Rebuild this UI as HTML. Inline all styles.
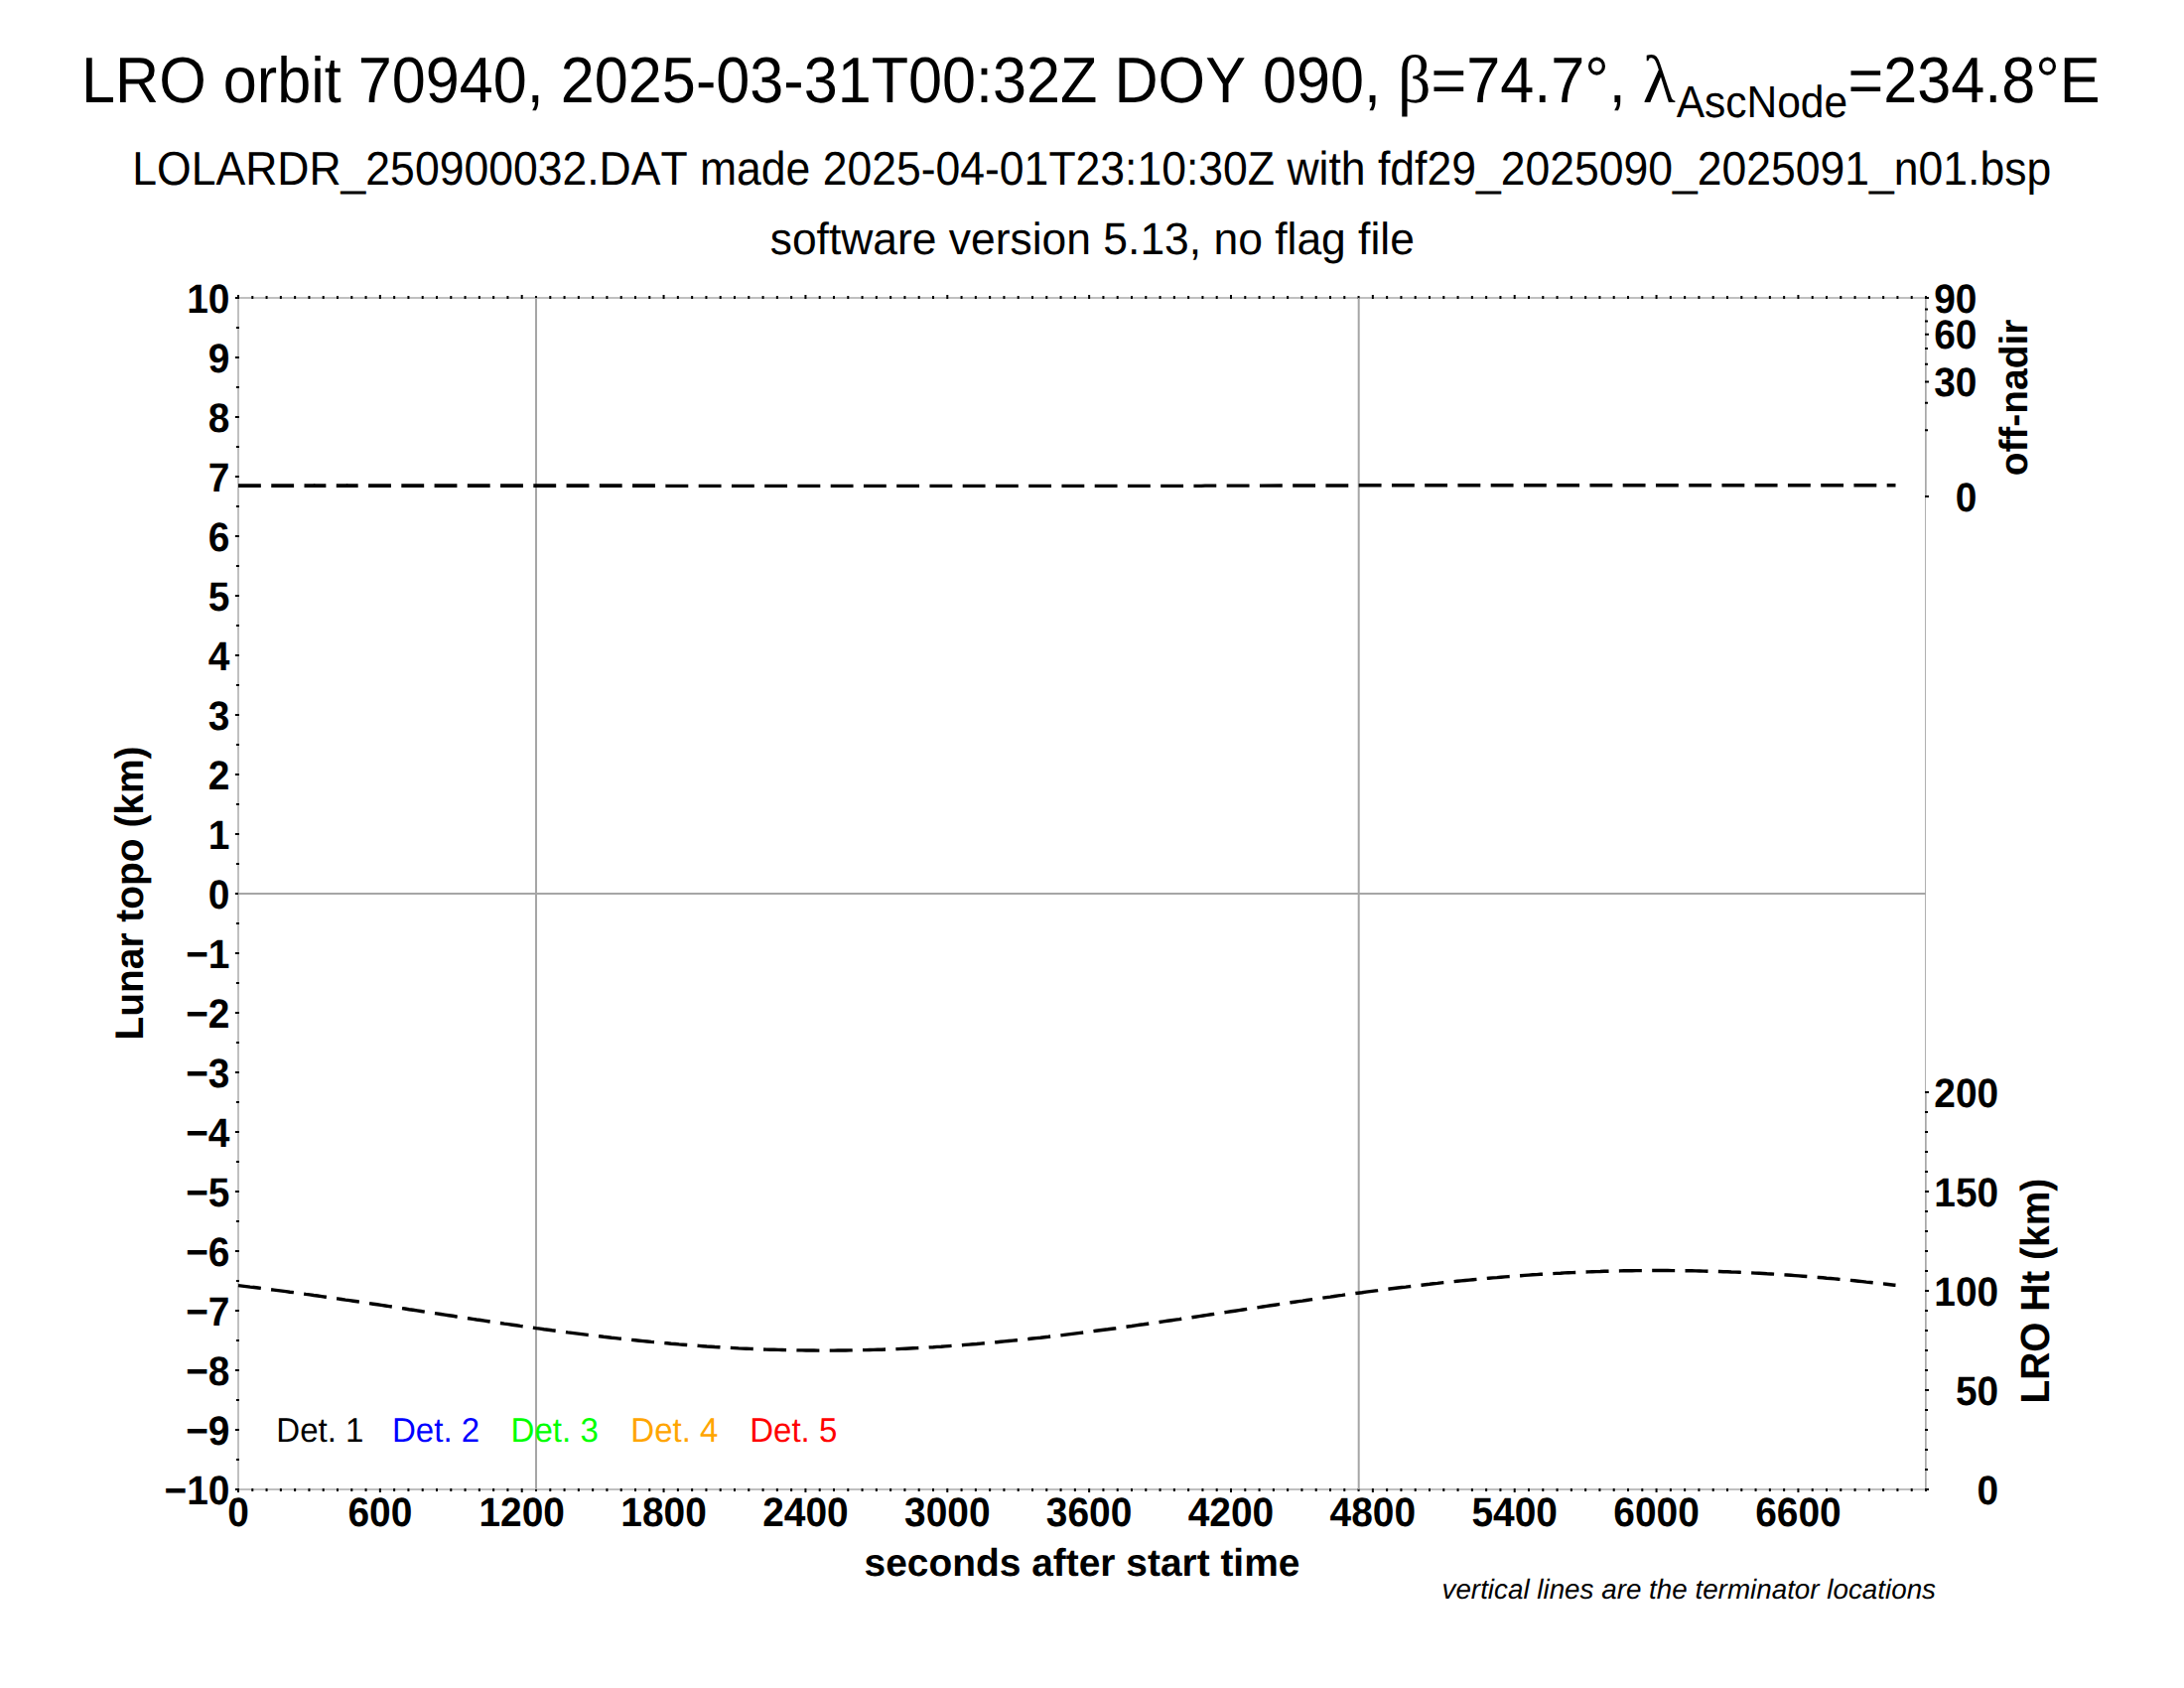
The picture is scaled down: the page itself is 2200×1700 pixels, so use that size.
<!DOCTYPE html>
<html lang="en"><head><meta charset="utf-8"><title>LRO orbit 70940</title>
<style>
html,body{margin:0;padding:0;background:#fff;}
body{width:2200px;height:1700px;overflow:hidden;}
svg{display:block;}
text{font-family:"Liberation Sans",Arial,Helvetica,sans-serif;fill:#000;font-kerning:none;font-variant-ligatures:none;text-rendering:geometricPrecision;}
.b{font-weight:bold;font-size:38.9px;}
.sym{font-family:"Liberation Serif","DejaVu Serif",serif;}
</style></head><body>
<svg width="2200" height="1700" viewBox="0 0 2200 1700">
<rect x="0" y="0" width="2200" height="1700" fill="#ffffff"/>
<g id="titles">
<text id="t1" x="82.1" y="103" font-size="61.16" transform="matrix(1 0 0 1.063 0 -6.489)">LRO orbit 70940, 2025-03-31T00:32Z DOY 090, <tspan id="beta" class="sym" font-size="64" textLength="33.5" lengthAdjust="spacingAndGlyphs">β</tspan><tspan id="p2">=74.7°, </tspan><tspan id="lam" class="sym" font-size="64" textLength="33" lengthAdjust="spacingAndGlyphs">λ</tspan><tspan id="sub" font-size="42.5" dy="14.5" dx="1">AscNode</tspan><tspan id="p3" dy="-14.5" dx="0.5">=234.8°E</tspan></text>
<text id="t2" x="1099.8" y="186" font-size="44.52" text-anchor="middle" transform="matrix(1 0 0 1.07 0 -13.020)">LOLARDR_250900032.DAT made 2025-04-01T23:10:30Z with fdf29_2025090_2025091_n01.bsp</text>
<text id="t3" x="1100.3" y="256" font-size="44.42" text-anchor="middle" transform="matrix(1 0 0 1.02 0 -5.120)">software version 5.13, no flag file</text>
</g>
<g id="frame" stroke="#c0c0c0" stroke-width="2" fill="none">
<path d="M1941 300 H240 V1500 H1941"/>
</g>
<line id="rframe" x1="1939.5" y1="300" x2="1939.5" y2="1500" stroke="#b0b0b0" stroke-width="1"/>
<g id="raxes">
<rect x="1939" y="299" width="1" height="202" fill="#a8a8a8"/>
<rect x="1940" y="299" width="1" height="202" fill="#c0c0c0"/>
<rect x="1939" y="1099" width="1" height="402" fill="#a8a8a8"/>
<rect x="1940" y="1099" width="1" height="402" fill="#c0c0c0"/>
</g>
<path id="ticks" d="M240.00 301 V297 M240.00 1499 V1503 M254.29 301 V298 M254.29 1499 V1502 M268.57 301 V298 M268.57 1499 V1502 M282.86 301 V298 M282.86 1499 V1502 M297.14 301 V298 M297.14 1499 V1502 M311.43 301 V298 M311.43 1499 V1502 M325.71 301 V298 M325.71 1499 V1502 M340.00 301 V298 M340.00 1499 V1502 M354.29 301 V298 M354.29 1499 V1502 M368.57 301 V298 M368.57 1499 V1502 M382.86 301 V297 M382.86 1499 V1503 M397.14 301 V298 M397.14 1499 V1502 M411.43 301 V298 M411.43 1499 V1502 M425.71 301 V298 M425.71 1499 V1502 M440.00 301 V298 M440.00 1499 V1502 M454.29 301 V298 M454.29 1499 V1502 M468.57 301 V298 M468.57 1499 V1502 M482.86 301 V298 M482.86 1499 V1502 M497.14 301 V298 M497.14 1499 V1502 M511.43 301 V298 M511.43 1499 V1502 M525.71 301 V297 M525.71 1499 V1503 M540.00 301 V298 M540.00 1499 V1502 M554.29 301 V298 M554.29 1499 V1502 M568.57 301 V298 M568.57 1499 V1502 M582.86 301 V298 M582.86 1499 V1502 M597.14 301 V298 M597.14 1499 V1502 M611.43 301 V298 M611.43 1499 V1502 M625.71 301 V298 M625.71 1499 V1502 M640.00 301 V298 M640.00 1499 V1502 M654.29 301 V298 M654.29 1499 V1502 M668.57 301 V297 M668.57 1499 V1503 M682.86 301 V298 M682.86 1499 V1502 M697.14 301 V298 M697.14 1499 V1502 M711.43 301 V298 M711.43 1499 V1502 M725.71 301 V298 M725.71 1499 V1502 M740.00 301 V298 M740.00 1499 V1502 M754.29 301 V298 M754.29 1499 V1502 M768.57 301 V298 M768.57 1499 V1502 M782.86 301 V298 M782.86 1499 V1502 M797.14 301 V298 M797.14 1499 V1502 M811.43 301 V297 M811.43 1499 V1503 M825.71 301 V298 M825.71 1499 V1502 M840.00 301 V298 M840.00 1499 V1502 M854.29 301 V298 M854.29 1499 V1502 M868.57 301 V298 M868.57 1499 V1502 M882.86 301 V298 M882.86 1499 V1502 M897.14 301 V298 M897.14 1499 V1502 M911.43 301 V298 M911.43 1499 V1502 M925.71 301 V298 M925.71 1499 V1502 M940.00 301 V298 M940.00 1499 V1502 M954.29 301 V297 M954.29 1499 V1503 M968.57 301 V298 M968.57 1499 V1502 M982.86 301 V298 M982.86 1499 V1502 M997.14 301 V298 M997.14 1499 V1502 M1011.43 301 V298 M1011.43 1499 V1502 M1025.71 301 V298 M1025.71 1499 V1502 M1040.00 301 V298 M1040.00 1499 V1502 M1054.29 301 V298 M1054.29 1499 V1502 M1068.57 301 V298 M1068.57 1499 V1502 M1082.86 301 V298 M1082.86 1499 V1502 M1097.14 301 V297 M1097.14 1499 V1503 M1111.43 301 V298 M1111.43 1499 V1502 M1125.71 301 V298 M1125.71 1499 V1502 M1140.00 301 V298 M1140.00 1499 V1502 M1154.29 301 V298 M1154.29 1499 V1502 M1168.57 301 V298 M1168.57 1499 V1502 M1182.86 301 V298 M1182.86 1499 V1502 M1197.14 301 V298 M1197.14 1499 V1502 M1211.43 301 V298 M1211.43 1499 V1502 M1225.71 301 V298 M1225.71 1499 V1502 M1240.00 301 V297 M1240.00 1499 V1503 M1254.29 301 V298 M1254.29 1499 V1502 M1268.57 301 V298 M1268.57 1499 V1502 M1282.86 301 V298 M1282.86 1499 V1502 M1297.14 301 V298 M1297.14 1499 V1502 M1311.43 301 V298 M1311.43 1499 V1502 M1325.71 301 V298 M1325.71 1499 V1502 M1340.00 301 V298 M1340.00 1499 V1502 M1354.29 301 V298 M1354.29 1499 V1502 M1368.57 301 V298 M1368.57 1499 V1502 M1382.86 301 V297 M1382.86 1499 V1503 M1397.14 301 V298 M1397.14 1499 V1502 M1411.43 301 V298 M1411.43 1499 V1502 M1425.71 301 V298 M1425.71 1499 V1502 M1440.00 301 V298 M1440.00 1499 V1502 M1454.29 301 V298 M1454.29 1499 V1502 M1468.57 301 V298 M1468.57 1499 V1502 M1482.86 301 V298 M1482.86 1499 V1502 M1497.14 301 V298 M1497.14 1499 V1502 M1511.43 301 V298 M1511.43 1499 V1502 M1525.71 301 V297 M1525.71 1499 V1503 M1540.00 301 V298 M1540.00 1499 V1502 M1554.29 301 V298 M1554.29 1499 V1502 M1568.57 301 V298 M1568.57 1499 V1502 M1582.86 301 V298 M1582.86 1499 V1502 M1597.14 301 V298 M1597.14 1499 V1502 M1611.43 301 V298 M1611.43 1499 V1502 M1625.71 301 V298 M1625.71 1499 V1502 M1640.00 301 V298 M1640.00 1499 V1502 M1654.29 301 V298 M1654.29 1499 V1502 M1668.57 301 V297 M1668.57 1499 V1503 M1682.86 301 V298 M1682.86 1499 V1502 M1697.14 301 V298 M1697.14 1499 V1502 M1711.43 301 V298 M1711.43 1499 V1502 M1725.71 301 V298 M1725.71 1499 V1502 M1740.00 301 V298 M1740.00 1499 V1502 M1754.29 301 V298 M1754.29 1499 V1502 M1768.57 301 V298 M1768.57 1499 V1502 M1782.86 301 V298 M1782.86 1499 V1502 M1797.14 301 V298 M1797.14 1499 V1502 M1811.43 301 V297 M1811.43 1499 V1503 M1825.71 301 V298 M1825.71 1499 V1502 M1840.00 301 V298 M1840.00 1499 V1502 M1854.29 301 V298 M1854.29 1499 V1502 M1868.57 301 V298 M1868.57 1499 V1502 M1882.86 301 V298 M1882.86 1499 V1502 M1897.14 301 V298 M1897.14 1499 V1502 M1911.43 301 V298 M1911.43 1499 V1502 M1925.71 301 V298 M1925.71 1499 V1502 M1940.00 301 V298 M1940.00 1499 V1502 M236.9 1500.00 H240.9 M237.9 1470.00 H241 M236.9 1440.00 H240.9 M237.9 1410.00 H241 M236.9 1380.00 H240.9 M237.9 1350.00 H241 M236.9 1320.00 H240.9 M237.9 1290.00 H241 M236.9 1260.00 H240.9 M237.9 1230.00 H241 M236.9 1200.00 H240.9 M237.9 1170.00 H241 M236.9 1140.00 H240.9 M237.9 1110.00 H241 M236.9 1080.00 H240.9 M237.9 1050.00 H241 M236.9 1020.00 H240.9 M237.9 990.00 H241 M236.9 960.00 H240.9 M237.9 930.00 H241 M236.9 900.00 H240.9 M237.9 870.00 H241 M236.9 840.00 H240.9 M237.9 810.00 H241 M236.9 780.00 H240.9 M237.9 750.00 H241 M236.9 720.00 H240.9 M237.9 690.00 H241 M236.9 660.00 H240.9 M237.9 630.00 H241 M236.9 600.00 H240.9 M237.9 570.00 H241 M236.9 540.00 H240.9 M237.9 510.00 H241 M236.9 480.00 H240.9 M237.9 450.00 H241 M236.9 420.00 H240.9 M237.9 390.00 H241 M236.9 360.00 H240.9 M237.9 330.00 H241 M236.9 300.00 H240.9 M1939 500.00 H1943 M1939 433.33 H1942 M1939 405.72 H1942 M1939 384.53 H1943 M1939 366.67 H1942 M1939 350.93 H1942 M1939 336.70 H1943 M1939 323.62 H1942 M1939 311.44 H1942 M1939 300.00 H1943 M1939 1500.00 H1943 M1939 1480.00 H1942 M1939 1460.00 H1942 M1939 1440.00 H1942 M1939 1420.00 H1942 M1939 1400.00 H1943 M1939 1380.00 H1942 M1939 1360.00 H1942 M1939 1340.00 H1942 M1939 1320.00 H1942 M1939 1300.00 H1943 M1939 1280.00 H1942 M1939 1260.00 H1942 M1939 1240.00 H1942 M1939 1220.00 H1942 M1939 1200.00 H1943 M1939 1180.00 H1942 M1939 1160.00 H1942 M1939 1140.00 H1942 M1939 1120.00 H1942 M1939 1100.00 H1943" stroke="#000" stroke-width="2" fill="none"/>
<g id="grid" stroke="#a6a6a6" stroke-width="2" fill="none">
<line x1="540" y1="300" x2="540" y2="1500"/>
<line x1="1368.7" y1="300" x2="1368.7" y2="1500"/>
<line x1="240" y1="900" x2="1940" y2="900"/>
</g>
<g id="xann" class="b" text-anchor="middle">
<text x="240.00" y="1537" transform="matrix(1 0 0 1.06 0 -92.220)">0</text>
<text x="382.86" y="1537" transform="matrix(1 0 0 1.06 0 -92.220)">600</text>
<text x="525.71" y="1537" transform="matrix(1 0 0 1.06 0 -92.220)">1200</text>
<text x="668.57" y="1537" transform="matrix(1 0 0 1.06 0 -92.220)">1800</text>
<text x="811.43" y="1537" transform="matrix(1 0 0 1.06 0 -92.220)">2400</text>
<text x="954.29" y="1537" transform="matrix(1 0 0 1.06 0 -92.220)">3000</text>
<text x="1097.14" y="1537" transform="matrix(1 0 0 1.06 0 -92.220)">3600</text>
<text x="1240.00" y="1537" transform="matrix(1 0 0 1.06 0 -92.220)">4200</text>
<text x="1382.86" y="1537" transform="matrix(1 0 0 1.06 0 -92.220)">4800</text>
<text x="1525.71" y="1537" transform="matrix(1 0 0 1.06 0 -92.220)">5400</text>
<text x="1668.57" y="1537" transform="matrix(1 0 0 1.06 0 -92.220)">6000</text>
<text x="1811.43" y="1537" transform="matrix(1 0 0 1.06 0 -92.220)">6600</text>
</g>
<g id="yann" class="b" text-anchor="end">
<text x="231.5" y="315" transform="matrix(1 0 0 1.06 0 -18.900)">10</text>
<text x="231.5" y="375" transform="matrix(1 0 0 1.06 0 -22.500)">9</text>
<text x="231.5" y="435" transform="matrix(1 0 0 1.06 0 -26.100)">8</text>
<text x="231.5" y="495" transform="matrix(1 0 0 1.06 0 -29.700)">7</text>
<text x="231.5" y="555" transform="matrix(1 0 0 1.06 0 -33.300)">6</text>
<text x="231.5" y="615" transform="matrix(1 0 0 1.06 0 -36.900)">5</text>
<text x="231.5" y="675" transform="matrix(1 0 0 1.06 0 -40.500)">4</text>
<text x="231.5" y="735" transform="matrix(1 0 0 1.06 0 -44.100)">3</text>
<text x="231.5" y="795" transform="matrix(1 0 0 1.06 0 -47.700)">2</text>
<text x="231.5" y="855" transform="matrix(1 0 0 1.06 0 -51.300)">1</text>
<text x="231.5" y="915" transform="matrix(1 0 0 1.06 0 -54.900)">0</text>
<text x="231.5" y="975" transform="matrix(1 0 0 1.06 0 -58.500)">−1</text>
<text x="231.5" y="1035" transform="matrix(1 0 0 1.06 0 -62.100)">−2</text>
<text x="231.5" y="1095" transform="matrix(1 0 0 1.06 0 -65.700)">−3</text>
<text x="231.5" y="1155" transform="matrix(1 0 0 1.06 0 -69.300)">−4</text>
<text x="231.5" y="1215" transform="matrix(1 0 0 1.06 0 -72.900)">−5</text>
<text x="231.5" y="1275" transform="matrix(1 0 0 1.06 0 -76.500)">−6</text>
<text x="231.5" y="1335" transform="matrix(1 0 0 1.06 0 -80.100)">−7</text>
<text x="231.5" y="1395" transform="matrix(1 0 0 1.06 0 -83.700)">−8</text>
<text x="231.5" y="1455" transform="matrix(1 0 0 1.06 0 -87.300)">−9</text>
<text x="231.5" y="1515" transform="matrix(1 0 0 1.06 0 -90.900)">−10</text>
</g>
<g id="rann1" class="b" text-anchor="end">
<text x="1991.5" y="315" transform="matrix(1 0 0 1.06 0 -18.900)">90</text>
<text x="1991.5" y="351" transform="matrix(1 0 0 1.06 0 -21.060)">60</text>
<text x="1991.5" y="399" transform="matrix(1 0 0 1.06 0 -23.940)">30</text>
<text x="1991.5" y="515" transform="matrix(1 0 0 1.06 0 -30.900)">0</text>
</g>
<g id="rann2" class="b" text-anchor="end">
<text x="2013.2" y="1115" transform="matrix(1 0 0 1.06 0 -66.900)">200</text>
<text x="2013.2" y="1215" transform="matrix(1 0 0 1.06 0 -72.900)">150</text>
<text x="2013.2" y="1315" transform="matrix(1 0 0 1.06 0 -78.900)">100</text>
<text x="2013.2" y="1415" transform="matrix(1 0 0 1.06 0 -84.900)">50</text>
<text x="2013.2" y="1515" transform="matrix(1 0 0 1.06 0 -90.900)">0</text>
</g>
<text id="xl" class="b" x="1090" y="1587" text-anchor="middle">seconds after start time</text>
<text id="yl" class="b" text-anchor="middle" transform="translate(144 899.5) rotate(-90) scale(1 1.03)">Lunar topo (km)</text>
<text id="rl1" class="b" text-anchor="middle" transform="translate(2042 400.5) rotate(-90) scale(1 1.02)">off-nadir</text>
<text id="rl2" class="b" text-anchor="middle" transform="translate(2064 1300.2) rotate(-90) scale(1 1.05)">LRO Ht (km)</text>
<text id="fn" x="1950" y="1610" font-size="27.8" font-style="italic" text-anchor="end">vertical lines are the terminator locations</text>
<g id="legend" font-size="33.05" transform="matrix(1 0 0 1.04 0 -58.080)">
<text x="278.3" y="1452.0" style="fill:#000000">Det. 1</text>
<text x="395.0" y="1452.0" style="fill:#0000ff">Det. 2</text>
<text x="514.6" y="1452.0" style="fill:#00ff00">Det. 3</text>
<text x="635.3" y="1452.0" style="fill:#ffa500">Det. 4</text>
<text x="755.2" y="1452.0" style="fill:#ff0000">Det. 5</text>
</g>
<path id="alt" d="M240.0 1294.6 L244.0 1295.1 L248.0 1295.6 L252.0 1296.1 L256.0 1296.5 L260.0 1297.0 L264.0 1297.5 L268.0 1298.0 L272.0 1298.6 L276.0 1299.1 L280.0 1299.6 L284.0 1300.1 L288.0 1300.6 L292.0 1301.2 L296.0 1301.7 L300.0 1302.3 L304.0 1302.8 L308.0 1303.4 L312.0 1303.9 L316.0 1304.5 L320.0 1305.0 L324.0 1305.6 L328.0 1306.2 L332.0 1306.7 L336.0 1307.3 L340.0 1307.9 L344.0 1308.5 L348.0 1309.1 L352.0 1309.6 L356.0 1310.2 L360.0 1310.8 L364.0 1311.4 L368.0 1312.0 L372.0 1312.6 L376.0 1313.2 L380.0 1313.8 L384.0 1314.4 L388.0 1315.0 L392.0 1315.6 L396.0 1316.2 L400.0 1316.8 L404.0 1317.4 L408.0 1318.0 L412.0 1318.7 L416.0 1319.3 L420.0 1319.9 L424.0 1320.5 L428.0 1321.1 L432.0 1321.7 L436.0 1322.3 L440.0 1322.9 L444.0 1323.5 L448.0 1324.1 L452.0 1324.7 L456.0 1325.3 L460.0 1326.0 L464.0 1326.6 L468.0 1327.2 L472.0 1327.8 L476.0 1328.4 L480.0 1329.0 L484.0 1329.5 L488.0 1330.1 L492.0 1330.7 L496.0 1331.3 L500.0 1331.9 L504.0 1332.5 L508.0 1333.1 L512.0 1333.6 L516.0 1334.2 L520.0 1334.8 L524.0 1335.4 L528.0 1335.9 L532.0 1336.5 L536.0 1337.0 L540.0 1337.6 L544.0 1338.1 L548.0 1338.7 L552.0 1339.2 L556.0 1339.8 L560.0 1340.3 L564.0 1340.8 L568.0 1341.3 L572.0 1341.9 L576.0 1342.4 L580.0 1342.9 L584.0 1343.4 L588.0 1343.9 L592.0 1344.4 L596.0 1344.8 L600.0 1345.3 L604.0 1345.8 L608.0 1346.3 L612.0 1346.7 L616.0 1347.2 L620.0 1347.6 L624.0 1348.1 L628.0 1348.5 L632.0 1348.9 L636.0 1349.4 L640.0 1349.8 L644.0 1350.2 L648.0 1350.6 L652.0 1351.0 L656.0 1351.4 L660.0 1351.7 L664.0 1352.1 L668.0 1352.5 L672.0 1352.8 L676.0 1353.2 L680.0 1353.5 L684.0 1353.9 L688.0 1354.2 L692.0 1354.5 L696.0 1354.8 L700.0 1355.1 L704.0 1355.4 L708.0 1355.7 L712.0 1356.0 L716.0 1356.2 L720.0 1356.5 L724.0 1356.7 L728.0 1357.0 L732.0 1357.2 L736.0 1357.4 L740.0 1357.6 L744.0 1357.9 L748.0 1358.1 L752.0 1358.2 L756.0 1358.4 L760.0 1358.6 L764.0 1358.8 L768.0 1358.9 L772.0 1359.1 L776.0 1359.2 L780.0 1359.3 L784.0 1359.4 L788.0 1359.5 L792.0 1359.6 L796.0 1359.7 L800.0 1359.8 L804.0 1359.9 L808.0 1359.9 L812.0 1360.0 L816.0 1360.0 L820.0 1360.0 L824.0 1360.1 L828.0 1360.1 L832.0 1360.1 L836.0 1360.1 L840.0 1360.1 L844.0 1360.0 L848.0 1360.0 L852.0 1360.0 L856.0 1359.9 L860.0 1359.8 L864.0 1359.8 L868.0 1359.7 L872.0 1359.6 L876.0 1359.5 L880.0 1359.4 L884.0 1359.3 L888.0 1359.2 L892.0 1359.0 L896.0 1358.9 L900.0 1358.7 L904.0 1358.6 L908.0 1358.4 L912.0 1358.2 L916.0 1358.0 L920.0 1357.8 L924.0 1357.6 L928.0 1357.4 L932.0 1357.2 L936.0 1356.9 L940.0 1356.7 L944.0 1356.4 L948.0 1356.2 L952.0 1355.9 L956.0 1355.6 L960.0 1355.3 L964.0 1355.1 L968.0 1354.8 L972.0 1354.4 L976.0 1354.1 L980.0 1353.8 L984.0 1353.5 L988.0 1353.1 L992.0 1352.8 L996.0 1352.4 L1000.0 1352.1 L1004.0 1351.7 L1008.0 1351.3 L1012.0 1350.9 L1016.0 1350.5 L1020.0 1350.1 L1024.0 1349.7 L1028.0 1349.3 L1032.0 1348.9 L1036.0 1348.5 L1040.0 1348.0 L1044.0 1347.6 L1048.0 1347.2 L1052.0 1346.7 L1056.0 1346.3 L1060.0 1345.8 L1064.0 1345.3 L1068.0 1344.9 L1072.0 1344.4 L1076.0 1343.9 L1080.0 1343.4 L1084.0 1342.9 L1088.0 1342.4 L1092.0 1341.9 L1096.0 1341.4 L1100.0 1340.9 L1104.0 1340.3 L1108.0 1339.8 L1112.0 1339.3 L1116.0 1338.8 L1120.0 1338.2 L1124.0 1337.7 L1128.0 1337.1 L1132.0 1336.6 L1136.0 1336.0 L1140.0 1335.5 L1144.0 1334.9 L1148.0 1334.3 L1152.0 1333.8 L1156.0 1333.2 L1160.0 1332.6 L1164.0 1332.1 L1168.0 1331.5 L1172.0 1330.9 L1176.0 1330.3 L1180.0 1329.7 L1184.0 1329.1 L1188.0 1328.6 L1192.0 1328.0 L1196.0 1327.4 L1200.0 1326.8 L1204.0 1326.2 L1208.0 1325.6 L1212.0 1325.0 L1216.0 1324.4 L1220.0 1323.8 L1224.0 1323.2 L1228.0 1322.6 L1232.0 1322.0 L1236.0 1321.4 L1240.0 1320.8 L1244.0 1320.2 L1248.0 1319.6 L1252.0 1319.0 L1256.0 1318.4 L1260.0 1317.8 L1264.0 1317.2 L1268.0 1316.6 L1272.0 1316.0 L1276.0 1315.4 L1280.0 1314.8 L1284.0 1314.2 L1288.0 1313.6 L1292.0 1313.0 L1296.0 1312.4 L1300.0 1311.8 L1304.0 1311.2 L1308.0 1310.6 L1312.0 1310.1 L1316.0 1309.5 L1320.0 1308.9 L1324.0 1308.3 L1328.0 1307.8 L1332.0 1307.2 L1336.0 1306.6 L1340.0 1306.1 L1344.0 1305.5 L1348.0 1304.9 L1352.0 1304.4 L1356.0 1303.8 L1360.0 1303.3 L1364.0 1302.7 L1368.0 1302.2 L1372.0 1301.7 L1376.0 1301.1 L1380.0 1300.6 L1384.0 1300.1 L1388.0 1299.6 L1392.0 1299.0 L1396.0 1298.5 L1400.0 1298.0 L1404.0 1297.5 L1408.0 1297.0 L1412.0 1296.5 L1416.0 1296.1 L1420.0 1295.6 L1424.0 1295.1 L1428.0 1294.6 L1432.0 1294.2 L1436.0 1293.7 L1440.0 1293.3 L1444.0 1292.8 L1448.0 1292.4 L1452.0 1291.9 L1456.0 1291.5 L1460.0 1291.1 L1464.0 1290.7 L1468.0 1290.3 L1472.0 1289.9 L1476.0 1289.5 L1480.0 1289.1 L1484.0 1288.7 L1488.0 1288.3 L1492.0 1288.0 L1496.0 1287.6 L1500.0 1287.2 L1504.0 1286.9 L1508.0 1286.6 L1512.0 1286.2 L1516.0 1285.9 L1520.0 1285.6 L1524.0 1285.3 L1528.0 1285.0 L1532.0 1284.7 L1536.0 1284.4 L1540.0 1284.1 L1544.0 1283.8 L1548.0 1283.6 L1552.0 1283.3 L1556.0 1283.1 L1560.0 1282.8 L1564.0 1282.6 L1568.0 1282.4 L1572.0 1282.2 L1576.0 1281.9 L1580.0 1281.7 L1584.0 1281.6 L1588.0 1281.4 L1592.0 1281.2 L1596.0 1281.0 L1600.0 1280.9 L1604.0 1280.7 L1608.0 1280.6 L1612.0 1280.5 L1616.0 1280.3 L1620.0 1280.2 L1624.0 1280.1 L1628.0 1280.0 L1632.0 1279.9 L1636.0 1279.8 L1640.0 1279.8 L1644.0 1279.7 L1648.0 1279.6 L1652.0 1279.6 L1656.0 1279.6 L1660.0 1279.5 L1664.0 1279.5 L1668.0 1279.5 L1672.0 1279.5 L1676.0 1279.5 L1680.0 1279.5 L1684.0 1279.6 L1688.0 1279.6 L1692.0 1279.6 L1696.0 1279.7 L1700.0 1279.7 L1704.0 1279.8 L1708.0 1279.9 L1712.0 1280.0 L1716.0 1280.1 L1720.0 1280.2 L1724.0 1280.3 L1728.0 1280.4 L1732.0 1280.5 L1736.0 1280.7 L1740.0 1280.8 L1744.0 1281.0 L1748.0 1281.1 L1752.0 1281.3 L1756.0 1281.5 L1760.0 1281.7 L1764.0 1281.9 L1768.0 1282.1 L1772.0 1282.3 L1776.0 1282.5 L1780.0 1282.8 L1784.0 1283.0 L1788.0 1283.2 L1792.0 1283.5 L1796.0 1283.8 L1800.0 1284.0 L1804.0 1284.3 L1808.0 1284.6 L1812.0 1284.9 L1816.0 1285.2 L1820.0 1285.5 L1824.0 1285.8 L1828.0 1286.2 L1832.0 1286.5 L1836.0 1286.8 L1840.0 1287.2 L1844.0 1287.5 L1848.0 1287.9 L1852.0 1288.3 L1856.0 1288.6 L1860.0 1289.0 L1864.0 1289.4 L1868.0 1289.8 L1872.0 1290.2 L1876.0 1290.6 L1880.0 1291.1 L1884.0 1291.5 L1888.0 1291.9 L1892.0 1292.3 L1896.0 1292.8 L1900.0 1293.2 L1904.0 1293.7 L1908.0 1294.2 L1909.5 1294.3" stroke="#000" stroke-width="3.4" stroke-dasharray="23 10.33" fill="none"/>
<path id="offn" d="M240 489.1 L316 489.1 L316.6 490.0 L317.2 489.1 L349 489.1 L349.6 490.0 L350.2 489.1 L670.45 489.2" stroke="#000" stroke-width="3.7" stroke-linejoin="bevel" stroke-dasharray="22.85 10.4" fill="none"/>
<path id="offn2" d="M670.45 489.45 L1210 489.45 L1214 489.05 L1368.7 489.0" stroke="#000" stroke-width="3.3" stroke-linejoin="bevel" stroke-dasharray="22.85 10.4" fill="none"/>
<path id="offn3" d="M1368.7 488.7 L1909.5 488.7" stroke="#000" stroke-width="3.4" stroke-dasharray="22.85 10.4" fill="none"/>
</svg>
</body></html>
